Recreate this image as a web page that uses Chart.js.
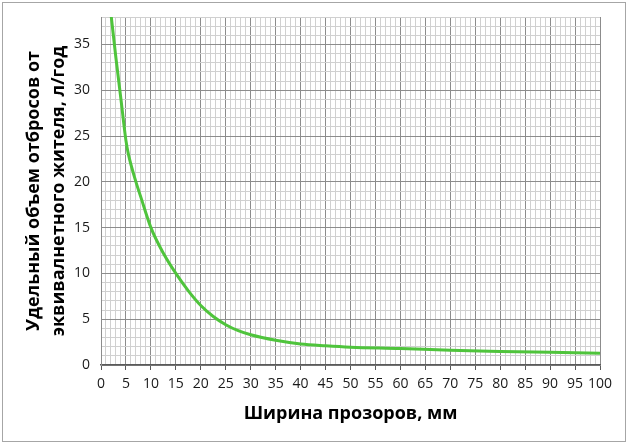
<!DOCTYPE html>
<html>
<head>
<meta charset="utf-8">
<script src="https://cdn.jsdelivr.net/npm/chart.js@4/dist/chart.umd.min.js"></script>
<style>
  html, body { margin: 0; padding: 0; background: #fff; }
  #wrap { position: relative; width: 629px; height: 445px; }
  #frame {
    position: absolute; left: 2px; top: 2px; width: 622px; height: 438px;
    border: 1.5px solid #a6a6a6; pointer-events: none;
  }
  canvas { position: absolute; left: 0; top: 0; }
</style>
</head>
<body>
<div id="wrap">
  <canvas id="chart" width="629" height="445"></canvas>
  <div id="frame"></div>
</div>
<script>
// gap width, mm
const widthMm = [2, 3, 4, 5, 5.5, 7, 8, 10, 12.5, 15, 17.5, 20, 22.5, 25, 27.5, 30, 35, 40, 45, 50, 60, 70, 80, 90, 100];
// specific waste volume, l/year
const volume = [38.3, 33.5, 29, 24.5, 23, 20, 18.3, 15, 12.2, 10, 8.1, 6.5, 5.3, 4.4, 3.75, 3.3, 2.7, 2.3, 2.1, 1.95, 1.8, 1.6, 1.48, 1.38, 1.28];

const xTitle = 'Ширина прозоров, мм';
const yTitle = ['Удельный объем отбросов от', 'эквивалнетного жителя, л/год'];

const majorGrid = '#8c8c8c';
const minorGrid = '#d0d0d0';
const font = 'Open Sans';

const gridColor = ctx => (ctx.tick && ctx.tick.value % 5 === 0 ? majorGrid : minorGrid);
const fiveOnly = v => (v % 5 === 0 ? v : '');

new Chart(document.getElementById('chart'), {
    type: 'line',
    data: {
        datasets: [{
            data: widthMm.map((x, i) => ({ x, y: volume[i] })),
            borderColor: '#4fc43c',
            borderWidth: 3,
            pointRadius: 0,
            cubicInterpolationMode: 'monotone',
            fill: false
        }]
    },
    options: {
        responsive: false,
        animation: false,
        layout: { padding: { left: 17, right: 29, top: 17, bottom: 14.8 } },
        plugins: {
            legend: { display: false },
            tooltip: { enabled: false }
        },
        scales: {
            x: {
                type: 'linear',
                min: 0,
                max: 100,
                afterFit: scale => { scale.height = 65.2; },
                grid: {
                    color: gridColor,
                    tickColor: ctx => (ctx.tick && ctx.tick.value % 5 === 0 ? '#595959' : 'rgba(0,0,0,0)'),
                    tickLength: 5
                },
                border: { color: '#595959', width: 1.5 },
                ticks: {
                    stepSize: 1,
                    autoSkip: false,
                    maxRotation: 0,
                    minRotation: 0,
                    padding: 6,
                    color: '#1a1a1a',
                    font: { family: font, size: 14 },
                    callback: fiveOnly
                },
                title: {
                    display: true,
                    text: xTitle,
                    color: '#000',
                    padding: { top: 4, bottom: 4 },
                    font: { family: font, size: 18, weight: 'bold', lineHeight: '25px' }
                }
            },
            y: {
                min: 0,
                max: 38,
                afterFit: scale => { scale.width = 84; },
                grid: {
                    color: gridColor,
                    tickColor: 'rgba(0,0,0,0)',
                    tickLength: 8
                },
                border: { color: majorGrid },
                ticks: {
                    stepSize: 1,
                    autoSkip: false,
                    padding: 3,
                    color: '#1a1a1a',
                    font: { family: font, size: 14 },
                    callback: fiveOnly
                },
                title: {
                    display: true,
                    text: yTitle,
                    color: '#000',
                    padding: { top: 4, bottom: 4 },
                    font: { family: font, size: 18, weight: 'bold', lineHeight: '25px' }
                }
            }
        }
    }
});
</script>
</body>
</html>
